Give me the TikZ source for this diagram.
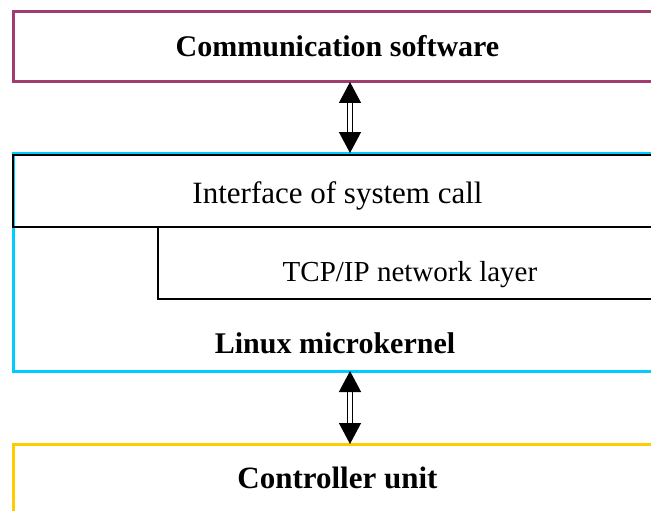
\documentclass[tikz,border=0pt]{standalone}
\usepackage{fontspec}
\setmainfont{Liberation Serif}
\usetikzlibrary{arrows.meta}

\definecolor{swpurple}{RGB}{160,60,112}
\definecolor{kernelblue}{RGB}{0,204,255}
\definecolor{unityellow}{RGB}{255,204,0}

\tikzset{
  layer/.style={draw,rectangle,inner sep=0pt,outer sep=0pt,anchor=north west,minimum width=649pt},
  txt/.style={anchor=base,inner sep=0pt},
  twoway/.style={double,double distance=3.5pt,line width=1.4pt,
    {Triangle[width=22pt,length=21pt]}-{Triangle[width=22pt,length=21pt]}}
}

\begin{document}
\begin{tikzpicture}[x=1pt,y=-1pt,font=\fontsize{30}{36}\selectfont]
    \useasboundingbox (0,0) rectangle (651,511);
    \clip (0,0) rectangle (651,511);

    \node[layer,draw=swpurple,line width=3pt,minimum height=70pt] (comm) at (13,12) {};
    \node[layer,draw=kernelblue,line width=3pt,minimum height=218pt] (kernel) at (13,153) {};
    \node[layer,line width=1.5pt,minimum height=72pt] (iface) at (13,155) {};
    \node[layer,line width=1.5pt,minimum width=504pt,minimum height=72pt] (tcp) at (158,227) {};
    \node[layer,draw=unityellow,line width=3pt,minimum height=90pt] (ctrl) at (13,444) {};

    \node[txt,font=\fontsize{30}{36}\selectfont\bfseries] (commtxt) at (337.5,57) {Communication software};
    \node[txt,font=\fontsize{31}{36}\selectfont] (ifacetxt) at (337.5,203) {Interface of system call};
    \node[txt,font=\fontsize{29}{36}\selectfont] (tcptxt) at (410,281) {TCP/IP network layer};
    \node[txt,font=\fontsize{30}{36}\selectfont\bfseries] (kerneltxt) at (335,353) {Linux microkernel};
    \node[txt,font=\fontsize{31}{36}\selectfont\bfseries] (ctrltxt) at (337.5,488) {Controller unit};

    \coordinate (ax) at (350,0);
    \begin{scope}[every path/.style={twoway}]
       \draw (comm.south -| ax) -- (kernel.north -| ax);
       \draw (kernel.south -| ax) -- (ctrl.north -| ax);
    \end{scope}
\end{tikzpicture}
\end{document}
